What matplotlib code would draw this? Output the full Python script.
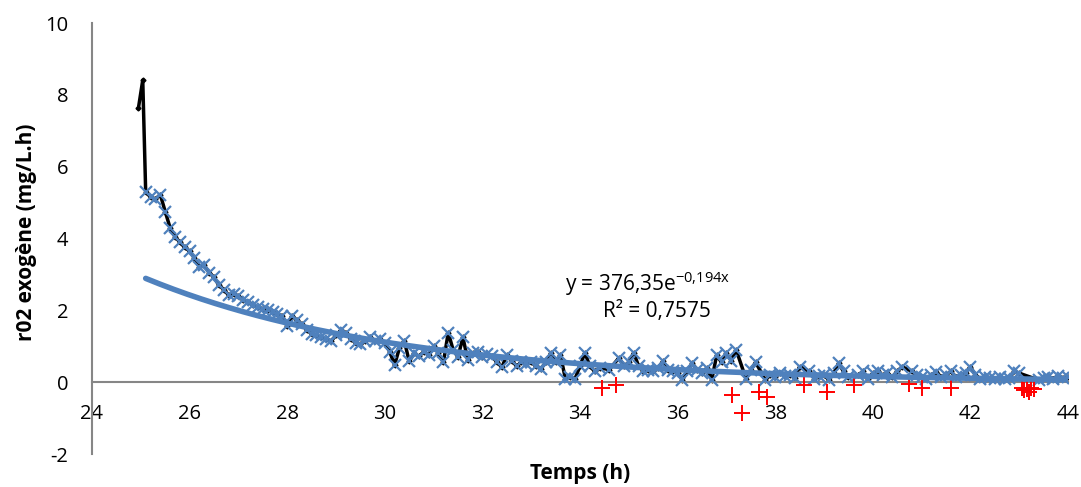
import numpy as np
import matplotlib
matplotlib.use("Agg")
import matplotlib.pyplot as plt

plt.rcParams['font.family'] = ['Open Sans', 'DejaVu Sans']
plt.rcParams['axes.unicode_minus'] = False

# initial spike (black line only)
t_start = [24.95, 25.04]
r_start = [7.62, 8.41]

# positive values (blue x markers + black line)
t_pos = [25.1, 25.2, 25.3, 25.4, 25.5, 25.6, 25.7, 25.8, 25.9, 26.0,
         26.1, 26.2, 26.3, 26.4, 26.5, 26.6, 26.7, 26.8, 26.9, 27.0,
         27.1, 27.2, 27.3, 27.4, 27.5, 27.6, 27.7, 27.8, 27.9, 28.0,
         28.1, 28.2, 28.3, 28.4, 28.5, 28.6, 28.7, 28.8, 28.9, 29.0,
         29.1, 29.2, 29.3, 29.4, 29.5, 29.6, 29.7, 29.8, 29.9, 30.0,
         30.1, 30.2, 30.3, 30.4, 30.5, 30.6, 30.7, 30.8, 30.9, 31.0,
         31.1, 31.2, 31.3, 31.4, 31.5, 31.6, 31.7, 31.8, 31.9, 32.0,
         32.1, 32.2, 32.3, 32.4, 32.5, 32.6, 32.7, 32.8, 32.9, 33.0,
         33.1, 33.2, 33.3, 33.4, 33.5, 33.6, 33.7, 33.8, 33.9, 34.0,
         34.1, 34.2, 34.3, 34.4, 34.6, 34.8, 34.9, 35.0, 35.1, 35.2,
         35.3, 35.4, 35.5, 35.6, 35.7, 35.8, 35.9, 36.0, 36.1, 36.2,
         36.3, 36.4, 36.5, 36.6, 36.7, 36.8, 36.9, 37.0, 37.1, 37.2,
         37.4, 37.5, 37.6, 37.8, 37.9, 38.0, 38.1, 38.2, 38.3, 38.4,
         38.5, 38.7, 38.8, 38.9, 39.0, 39.1, 39.2, 39.3, 39.4, 39.5,
         39.7, 39.8, 39.9, 40.0, 40.1, 40.2, 40.3, 40.4, 40.5, 40.6,
         40.8, 40.9, 41.0, 41.1, 41.2, 41.3, 41.4, 41.5, 41.6, 41.7,
         41.8, 41.9, 42.0, 42.1, 42.2, 42.3, 42.4, 42.5, 42.6, 42.7,
         42.8, 42.9, 43.0, 43.4, 43.5, 43.6, 43.7, 43.8, 43.9, 44.0]
r_pos = [5.30, 5.15, 5.10, 5.22, 4.75, 4.30, 4.05, 3.90, 3.75, 3.65,
         3.45, 3.22, 3.25, 3.05, 2.92, 2.70, 2.58, 2.42, 2.45, 2.40,
         2.30, 2.22, 2.15, 2.08, 2.05, 2.02, 1.95, 1.90, 1.85, 1.55,
         1.85, 1.72, 1.62, 1.45, 1.35, 1.30, 1.25, 1.20, 1.15, 1.30,
         1.45, 1.38, 1.20, 1.10, 1.05, 1.15, 1.25, 1.15, 1.20, 1.10,
         0.85, 0.48, 0.95, 1.15, 0.58, 0.80, 0.72, 0.85, 0.75, 1.00,
         0.80, 0.55, 1.38, 0.90, 0.70, 1.25, 0.62, 0.80, 0.85, 0.70,
         0.78, 0.72, 0.55, 0.42, 0.75, 0.60, 0.45, 0.55, 0.50, 0.55,
         0.45, 0.38, 0.55, 0.80, 0.55, 0.75, 0.10, 0.15, 0.10, 0.45,
         0.82, 0.45, 0.30, 0.40, 0.35, 0.68, 0.45, 0.55, 0.82, 0.45,
         0.30, 0.35, 0.30, 0.40, 0.58, 0.35, 0.30, 0.25, 0.06, 0.30,
         0.52, 0.35, 0.25, 0.40, 0.06, 0.75, 0.55, 0.80, 0.60, 0.90,
         0.10, 0.35, 0.55, 0.06, 0.20, 0.15, 0.25, 0.18, 0.20, 0.12,
         0.43, 0.30, 0.10, 0.18, 0.20, 0.06, 0.25, 0.52, 0.30, 0.15,
         0.20, 0.30, 0.08, 0.25, 0.30, 0.20, 0.25, 0.15, 0.30, 0.43,
         0.30, 0.20, 0.15, 0.10, 0.20, 0.28, 0.15, 0.20, 0.30, 0.15,
         0.20, 0.25, 0.43, 0.20, 0.10, 0.15, 0.12, 0.10, 0.15, 0.10,
         0.12, 0.30, 0.25, 0.06, 0.12, 0.15, 0.10, 0.18, 0.12, 0.15]

# negative values (red +)
t_neg = [34.45, 34.73, 37.11, 37.31, 37.67, 37.84, 38.59, 39.07, 39.62,
         40.74, 41.01, 41.60, 43.05, 43.10, 43.15, 43.20, 43.25, 43.30]
r_neg = [-0.16, -0.08, -0.36, -0.87, -0.27, -0.40, -0.08, -0.27, -0.08,
         -0.04, -0.17, -0.17, -0.15, -0.22, -0.18, -0.28, -0.15, -0.20]

# exponential trendline  y = 376,35 e^(-0,194x)
fit_a, fit_b = 376.35, -0.194
fit_range = [25.1, 44.0]

blue = '#4F81BD'
grey = '#868686'

fig = plt.figure(figsize=(10.81, 4.87), dpi=100)
ax = fig.add_axes([92 / 1081, 1 - 454 / 487, (1068 - 92) / 1081, (454 - 23) / 487])

ax.plot(t_start + t_pos, r_start + r_pos, color='black', lw=2.5,
        marker='D', ms=2.5, zorder=2)
ax.plot(t_pos, r_pos, ls='none', marker='x', ms=9, mew=1.6, color=blue, zorder=3)
ax.plot(t_neg, r_neg, ls='none', marker='+', ms=11, mew=1.4, color='#FF0000', zorder=3)

tf = np.linspace(fit_range[0], fit_range[1], 200)
ax.plot(tf, fit_a * np.exp(fit_b * tf), color=blue, lw=4, solid_capstyle='round', zorder=4)

ax.set_xlim(24, 44)
ax.set_ylim(-2, 10)
ax.set_xticks(range(24, 45, 2))
ax.set_yticks(range(-2, 11, 2))
ax.tick_params(length=0, labelsize=14.5)
ax.tick_params(axis='y', pad=17)
ax.tick_params(axis='x', pad=16)

for s in ['top', 'right']:
    ax.spines[s].set_visible(False)
ax.spines['bottom'].set_position(('data', 0))
ax.spines['bottom'].set_color(grey)
ax.spines['left'].set_color(grey)
ax.spines['bottom'].set_linewidth(1.5)
ax.spines['left'].set_linewidth(1.5)

fig.text(580 / 1081, 1 - 473 / 487, 'Temps (h)', ha='center', va='center',
         fontsize=15, fontweight='bold')
fig.text(27 / 1081, 1 - 232 / 487, 'r02 exogène (mg/L.h)', ha='center', va='center',
         rotation=90, fontsize=15, fontweight='bold')

fig.text(648 / 1081, 1 - 284 / 487, r'y = 376,35e$^{\mathregular{-0{,}194x}}$',
         ha='center', va='center', fontsize=15)
fig.text(657 / 1081, 1 - 312 / 487, 'R² = 0,7575',
         ha='center', va='center', fontsize=15)

fig.savefig('out.png', dpi=100)
